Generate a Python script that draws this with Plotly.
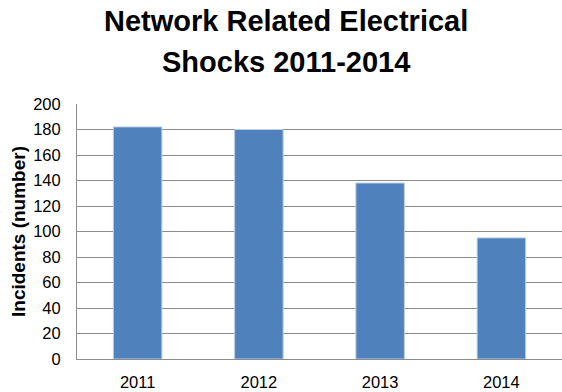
import plotly.graph_objects as go

years = ["2011", "2012", "2013", "2014"]
incidents = [182, 180, 138, 95]
y_ticks = [0, 20, 40, 60, 80, 100, 120, 140, 160, 180, 200]
title_lines = ["Network Related Electrical", "Shocks 2011-2014"]

fig = go.Figure(go.Bar(
    x=years, y=incidents, width=0.4,
    marker=dict(color="#4F81BD", line=dict(color="#B9CDE5", width=1)),
))

fig.update_layout(
    width=562, height=392,
    margin=dict(l=77, r=0, t=104, b=33),
    paper_bgcolor="white", plot_bgcolor="white",
    font=dict(family="Liberation Sans, Arial", color="#000000"),
    showlegend=False,
)
for line, ypos in zip(title_lines, [1.396, 1.236]):
    fig.add_annotation(
        text="<b>" + line + "</b>",
        xref="paper", yref="paper", x=0.431, y=ypos,
        xanchor="center", yanchor="top", showarrow=False,
        font=dict(size=29, family="Liberation Sans, Arial", color="#000000"),
    )

fig.update_yaxes(
    range=[0, 200], tickvals=y_ticks,
    showgrid=True, gridcolor="#8C8C8C", gridwidth=1,
    showline=True, linecolor="#8C8C8C", linewidth=1,
    ticks="", tickfont=dict(size=16.5, color="#000000"),
    ticklabelstandoff=12,
    title=dict(text="<b>Incidents (number)</b>", font=dict(size=19), standoff=2),
    zeroline=False,
)
fig.update_xaxes(
    showline=True, linecolor="#8C8C8C", linewidth=1,
    ticks="", tickfont=dict(size=16.5, color="#000000"),
    ticklabelstandoff=8,
)

fig.write_html("out.html")
